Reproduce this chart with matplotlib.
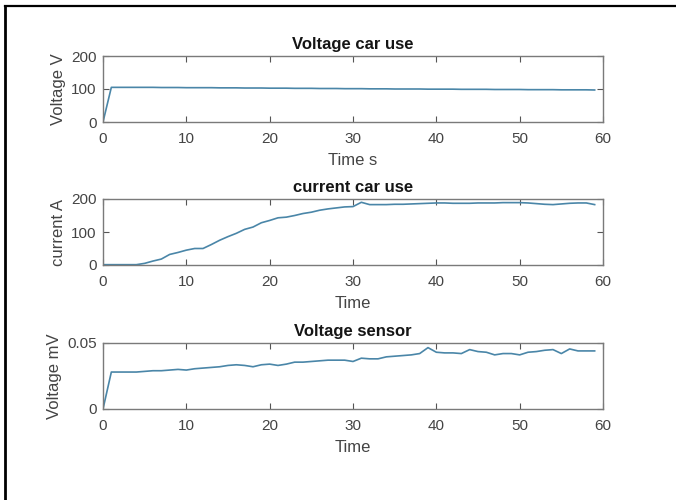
import matplotlib
matplotlib.use("Agg")
import matplotlib.pyplot as plt
from matplotlib.lines import Line2D

plt.rcParams['font.family'] = ['Liberation Sans', 'DejaVu Sans']

time = list(range(60))
voltage_car = [0, 105, 105, 105, 105, 105, 105, 104.5, 104.5, 104.5,
               104, 104, 104, 104, 103.5, 103.5, 103.5, 103, 103, 103,
               102.5, 102.5, 102.5, 102, 102, 102, 101.5, 101.5, 101.5, 101,
               101, 101, 100.5, 100.5, 100.5, 100, 100, 100, 100, 99.5,
               99.5, 99.5, 99.5, 99, 99, 99, 99, 98.5, 98.5, 98.5,
               98.5, 98, 98, 98, 98, 97.5, 97.5, 97.5, 97.5, 97]
current_car = [1, 1, 1, 1, 1, 5, 12, 18, 32, 38,
               45, 50, 50, 62, 75, 86, 96, 108, 115, 128,
               135, 143, 145, 150, 156, 160, 166, 170, 173, 176,
               177, 190, 183, 183, 183, 184, 184, 185, 186, 187,
               188, 188, 187, 187, 187, 188, 188, 188, 189, 189,
               189, 188, 186, 184, 183, 185, 187, 188, 188, 183]
voltage_sensor = [0, 0.028, 0.028, 0.028, 0.028, 0.0285, 0.029, 0.029, 0.0295, 0.03,
                  0.0295, 0.0305, 0.031, 0.0315, 0.032, 0.033, 0.0335, 0.033, 0.032, 0.0335,
                  0.034, 0.033, 0.034, 0.0355, 0.0355, 0.036, 0.0365, 0.037, 0.037, 0.037,
                  0.036, 0.0385, 0.038, 0.038, 0.0395, 0.04, 0.0405, 0.041, 0.042, 0.0465,
                  0.043, 0.0425, 0.0425, 0.042, 0.045, 0.0435, 0.043, 0.041, 0.042, 0.042,
                  0.041, 0.043, 0.0435, 0.0445, 0.045, 0.042, 0.0455, 0.044, 0.044, 0.044]

titles = ["Voltage car use", "current car use", "Voltage sensor"]
ylabels = ["Voltage V", "current A", "Voltage mV"]
xlabels = ["Time s", "Time", "Time"]
yticks = [[0, 100, 200], [0, 100, 200], [0, 0.05]]
yticklabels = [["0", "100", "200"], ["0", "100", "200"], ["0", "0.05"]]
xticks = [0, 10, 20, 30, 40, 50, 60]
series = [voltage_car, current_car, voltage_sensor]

W, H = 676, 500
fig = plt.figure(figsize=(W / 100, H / 100), dpi=100)

left, right = 103, 603
tops = [56, 199, 343]
height = 66

for i in range(3):
    ax = fig.add_axes([left / W, 1 - (tops[i] + height) / H, (right - left) / W, height / H])
    ax.plot(time, series[i], color='#4a86a8', linewidth=1.2)
    ax.set_xlim(0, 60)
    ax.set_ylim(yticks[i][0], yticks[i][-1])
    ax.set_xticks(xticks)
    ax.set_yticks(yticks[i])
    ax.set_yticklabels(yticklabels[i])
    ax.tick_params(direction='in', top=True, right=True, length=4, width=0.8,
                   colors='#555555', labelcolor='#444444', labelsize=11)
    ax.tick_params(axis='x', pad=7)
    ax.tick_params(axis='y', pad=4.5)
    for s in ax.spines.values():
        s.set_color('#7a7a7a')
        s.set_linewidth(1.0)
    ax.set_title(titles[i], fontsize=12, fontweight='bold', color='#151515', pad=5)
    ax.set_xlabel(xlabels[i], fontsize=12, color='#444444', labelpad=5)
    ax.set_ylabel(ylabels[i], fontsize=12, color='#444444', labelpad=4)

# document-style frame
fig.add_artist(Line2D([5 / W, 5 / W], [0, 1 - 6 / H], color='black', linewidth=2, transform=fig.transFigure))
fig.add_artist(Line2D([5 / W, 1], [1 - 6 / H, 1 - 6 / H], color='black', linewidth=1.6, transform=fig.transFigure))

fig.savefig("out.png", dpi=100)
